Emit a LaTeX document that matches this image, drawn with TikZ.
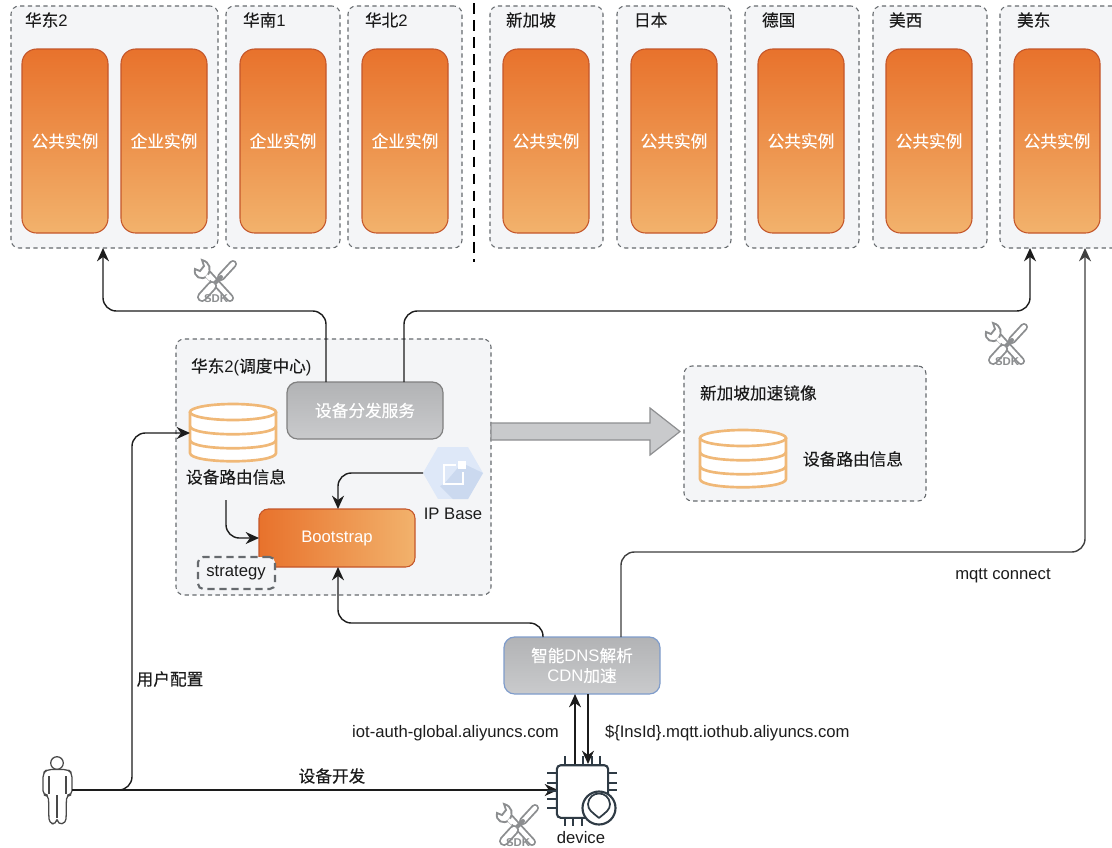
\documentclass[tikz,border=0pt]{standalone}
\usepackage{fontspec}
\setmainfont{Liberation Sans}
\newfontfamily\cjk[FakeBold=0.25]{Noto Sans CJK SC}
\usetikzlibrary{arrows.meta,shapes.geometric}
\newcommand\rbox[7]{\node[#6,minimum width={(#4-#2)*0.75pt},minimum height={(#5-#3)*0.75pt}] (#1) at ({(#2+#4)/2},{(#3+#5)/2}) {#7};}
\newcommand\regionbox[6]{\rbox{#1}{#2}{6}{#3}{248}{region}{}\node[txt,anchor=west] (#1t) at (#4,#5) {#6};}
\newcommand\inst[3]{\rbox{#1}{#2}{49}{#2+86}{233}{orange}{\cjk #3}}
\definecolor{boxfill}{HTML}{F4F5F7}
\definecolor{dash}{HTML}{666A6E}
\definecolor{orA}{HTML}{E8722C}
\definecolor{orB}{HTML}{F2B26C}
\definecolor{orL}{HTML}{C4562A}
\definecolor{ink}{HTML}{1C1C1C}
\definecolor{cyl}{HTML}{F0B877}
\definecolor{sdk}{HTML}{8C8E90}
\definecolor{chip}{HTML}{2F3B45}
\definecolor{GA}{HTML}{B2B3B5}
\definecolor{GB}{HTML}{C9CACC}
\definecolor{hexA}{HTML}{DEE8F8}
\definecolor{hexB}{HTML}{CBD9EF}
\definecolor{dnsL}{HTML}{7F9CCB}
\tikzset{
  txt/.style={inner sep=0,outer sep=0,font=\fontsize{12.5}{15}\selectfont,text=ink},
  region/.style={draw=dash,fill=boxfill,line width=0.8pt,dash pattern=on 3.2pt off 2.6pt,rounded corners=6pt,inner sep=0,outer sep=0},
  orange/.style={draw=orL,line width=0.8pt,top color=orA,bottom color=orB,rounded corners=11pt,inner sep=0,outer sep=0,text=white,font=\fontsize{12.5}{15}\selectfont},
  grayb/.style={draw=#1,line width=0.9pt,top color=GA,bottom color=GB,rounded corners=8pt,inner sep=0,outer sep=0,text=white,font=\fontsize{12.5}{15}\selectfont,align=center},
  conn/.style={draw=ink,line width=1.05pt,rounded corners=10pt,-{Stealth[length=10pt,width=9pt]}},
  connp/.style={draw=ink,line width=1.05pt,rounded corners=10pt},
  pics/sdktool/.style={code={
    \begin{scope}[line cap=round]
      % wrench
      \draw[sdk,line width=6pt] (-8,-8)--(14,16);
      \draw[white,line width=3.2pt] (-8,-8)--(14,16);
      \draw[sdk,line width=1.4pt,fill=white] (-21,-13) .. controls (-23,-5) and (-14,-1) .. (-9,-6)
         .. controls (-4,-12) and (-6,-20) .. (-14,-22) -- (-12,-16) -- (-16,-11) -- cycle;
      \draw[white,line width=2.4pt,line cap=butt] (-9.5,-6.5)--(-5.5,-2.5);
      % screwdriver
      \draw[sdk,line width=6pt] (5,-5)--(17,-18);
      \draw[white,line width=3.2pt] (5,-5)--(17,-18);
      \draw[sdk,line width=3pt] (-3,3)--(5,-5);
      \draw[sdk,line width=7.5pt] (-14,15)--(-4,4);
      \draw[white,line width=4.7pt] (-14,15)--(-4,4);
    \end{scope}
    \node[inner sep=0,font=\bfseries\fontsize{8.5}{9}\selectfont,text=sdk] (-sdklabel) at (0,16.5) {SDK};
  }},
  pics/cylinder/.style={code={
    \begin{scope}[cyl,line width=2pt]
      \draw[fill=white] (0,9) -- (0,50) .. controls (0,61) and (86,61) .. (86,50) -- (86,9);
      \draw (0,23) .. controls (0,34) and (86,34) .. (86,23);
      \draw (0,37) .. controls (0,48) and (86,48) .. (86,37);
      \draw[fill=white] (43,9) ellipse[x radius=43,y radius=8];
    \end{scope}
  }},
}
\begin{document}
\begin{tikzpicture}[x=0.75pt,y=-0.75pt]
\useasboundingbox (0,0) rectangle (1112,847);
\clip (0,0) rectangle (1112,847);
% top regions
\regionbox{hd}{11}{218}{25}{20}{{\cjk 华东}2}
\regionbox{hn}{226}{340}{243}{20}{{\cjk 华南}1}
\regionbox{hb}{348}{462}{365}{20}{{\cjk 华北}2}
\regionbox{sg}{490}{603}{506}{20}{\cjk 新加坡}
\regionbox{jp}{617}{731}{634}{20}{\cjk 日本}
\regionbox{de}{745}{859}{762}{20}{\cjk 德国}
\regionbox{uw}{873}{987}{889}{20}{\cjk 美西}
\regionbox{ue}{1000}{1120}{1017}{20}{\cjk 美东}
\inst{i1}{22}{公共实例}
\inst{i2}{121}{企业实例}
\inst{i3}{240}{企业实例}
\inst{i4}{362}{企业实例}
\inst{i5}{503}{公共实例}
\inst{i6}{631}{公共实例}
\inst{i7}{758}{公共实例}
\inst{i8}{886}{公共实例}
\inst{i9}{1014}{公共实例}
\coordinate (sepA) at (474,3);
\coordinate (sepB) at (474,262);
\draw[black,line width=2.1pt,dash pattern=on 8pt off 4.8pt] (sepA)--(sepB);
% middle regions
\rbox{ctr}{176}{339}{491}{595}{region}{}
\node[txt,anchor=west] (ctrt) at (191,367) {{\cjk 华东}2({\cjk 调度中心})};
\rbox{mir}{684}{366}{926}{501}{region}{}
\node[txt,anchor=west] (mirt) at (700,393) {\cjk 新加坡加速镜像};
% thick arrow
\draw[draw=GA!80!black,fill=GB,line width=0.9pt] (491,423)--(650,423)--(650,408)--(680,431.5)--(650,455)--(650,440)--(491,440)--cycle;
% service boxes
\rbox{dist}{287}{382}{443}{439}{grayb=gray}{\cjk 设备分发服务}
\rbox{boot}{259}{509}{415}{567}{orange,left color=orA,right color=orB,rounded corners=7pt}{Bootstrap}
\rbox{stg}{198}{557}{275}{589}{region,line width=1.6pt,dash pattern=on 5.4pt off 3.6pt,rounded corners=4pt}{}
\node[txt] (stgt) at (236,573) {strategy};
\rbox{dns}{504}{637}{660}{694}{grayb=dnsL}{{\cjk 智能}DNS{\cjk 解析}\\CDN{\cjk 加速}}
% cylinders
\pic (c1) at (190,403) {cylinder};
\node[txt] (c1t) at (236,477) {\cjk 设备路由信息};
\coordinate (c1w) at (190,433);
\pic (c2) at (700,429) {cylinder};
\node[txt] (c2t) at (853,459) {\cjk 设备路由信息};
% hexagon
\node[regular polygon,regular polygon sides=6,minimum size=45pt,fill=hexA,inner sep=0,outer sep=0] (hex) at (453,473) {};
\fill[hexB] (444,484)--(462,463)--(483,473)--(468,499)--(453,499)--(440,486)--cycle;
\draw[white,line width=2.2pt] (456,465)--(444,465)--(444,484)--(463,484)--(463,472);
\fill[white] (458,461) rectangle (466,469);
\node[txt] (hext) at (453,514) {IP Base};
% routing guides
\coordinate (gA) at (326,311);
\coordinate (gB) at (404,311);
\coordinate (gC) at (1030,311);
\coordinate (gD) at (103,311);
\coordinate (gE) at (621,552);
\coordinate (gF) at (1085,552);
\coordinate (gG) at (543,623);
\coordinate (gH) at (338,623);
\coordinate (gI) at (338,473);
\coordinate (gJ) at (132,790);
\coordinate (gK) at (226,538);
\coordinate (gL) at (226,500);
\coordinate (gM) at (575,694);
\coordinate (gN) at (588,694);
% connectors
\draw[conn] (gA |- dist.north) -- (gA) -- (gD) -- (gD |- hd.south);
\draw[conn] (gB |- dist.north) -- (gB) -- (gC) -- (gC |- ue.south);
\draw[conn,draw=ink!85] (gE |- dns.north) -- (gE) -- (gF) -- (gF |- ue.south);
\draw[conn] (gG |- dns.north) -- (gG) -- (gH) -- (gH |- boot.south);
\draw[conn] (hex.west) -- (gI) -- (gI |- boot.north);
\draw[conn] (gL) -- (gK) -- (gK -| boot.west);
% person
\begin{scope}[draw=ink!80,line width=0.95pt,line join=round]
  \draw (57,763) circle[radius=6.3];
  \draw[rounded corners=3.2pt] (47,769.5)--(68,769.5)--(72,773)--(72,795)--(66.5,795)--(66,823)--(58,824.5)--(57,817)--(56,824.5)--(49,823)--(48.5,795)--(43,795)--(43,773)--cycle;
  \draw[line width=1.5pt] (49,776)--(49,794);
  \draw[line width=1.5pt] (65.5,776)--(65.5,794);
  \draw[line width=1.5pt] (57.3,795)--(57.3,818);
\end{scope}
\coordinate (per) at (72,790);
\draw[connp,-{Stealth[length=10pt,width=9pt]}] (per) -- (gJ) -- (gJ |- c1w) -- (c1w);
\coordinate (devw) at (558,790);
\draw[connp,-{Stealth[length=10pt,width=9pt]},rounded corners=0] (per) -- (devw);
\node[txt] (devlab) at (332,776) {\cjk 设备开发};
\node[txt] (cfg) at (170,679) {\cjk 用户配置};
% device
\begin{scope}[draw=chip,line width=1.6pt]
  \foreach \x in {565,575,583,592,600} \draw (\x,756)--(\x,765);
  \foreach \x in {565,573,582} \draw (\x,818)--(\x,826);
  \foreach \y in {773,783,791,799,808} \draw (547,\y)--(557,\y);
  \foreach \y in {773,783,790} \draw (608,\y)--(617,\y);
  \node[draw,inner sep=0,outer sep=0,minimum width=38.5pt,minimum height=39.5pt,rounded corners=3pt,fill=white] (dev) at (582.5,791.5) {};
  \draw[fill=white] (599,808) circle[radius=16.5];
  \draw[line width=1.3pt] (599,818) .. controls (592,812) and (588,810) .. (588,804) .. controls (589,790) and (609,790) .. (610,804) .. controls (610,810) and (606,812) .. (599,818);
\end{scope}
\node[txt] (devt) at (581,838) {device};
\coordinate (up) at (575,764);
\coordinate (dn) at (588,764);
\draw[conn,rounded corners=0] (up) -- (gM |- dns.south);
\draw[conn,rounded corners=0] (gN |- dns.south) -- (dn);
% labels
\node[txt] (l1) at (455.5,733) {iot-auth-global.aliyuncs.com};
\node[txt,anchor=west] (l2) at (605,733) {\$\{InsId\}.mqtt.iothub.aliyuncs.com};
\node[txt] (l3) at (1003,576) {mqtt connect};
% sdk icons
\pic (s1) at (216,282) {sdktool};
\pic (s2) at (1007,345) {sdktool};
\pic (s3) at (518,826) {sdktool};
\end{tikzpicture}
\end{document}
